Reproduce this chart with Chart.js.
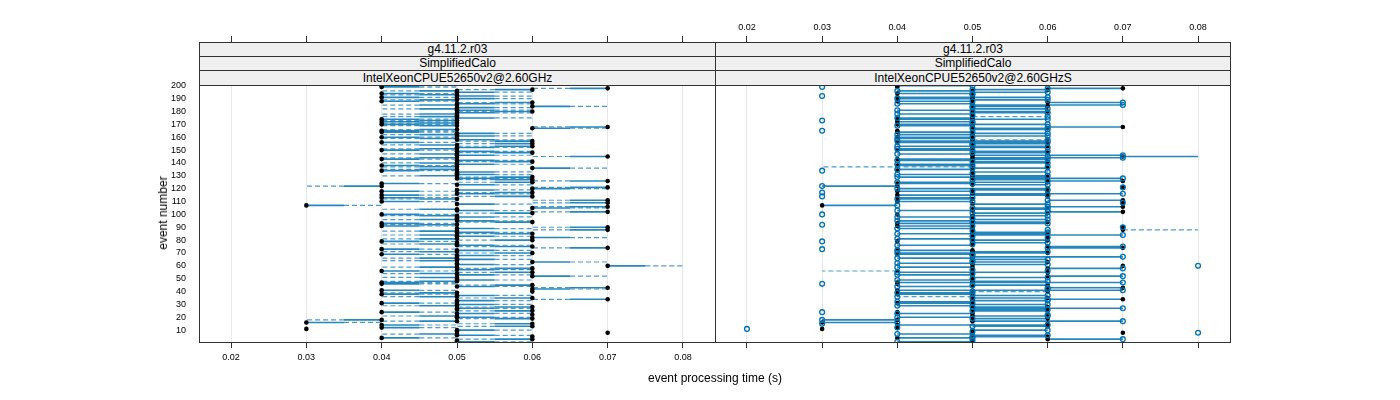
<!DOCTYPE html>
<html>
<head>
<meta charset="utf-8">
<script src="https://cdn.jsdelivr.net/npm/chart.js@4.4.1/dist/chart.umd.min.js"></script>
<style>
body { margin: 0; background: #fff; font-family: "Liberation Sans", Arial, sans-serif; }
#wrap { position: relative; width: 1400px; height: 400px; overflow: hidden; }
canvas { position: absolute; left: 0; top: 0; }
.strip { position: absolute; box-sizing: border-box; border: 1px solid #333; background: #efefef;
         font-size: 12px; text-align: center; color: #000; white-space: nowrap; }
.lab { position: absolute; font-size: 12px; color: #000; white-space: nowrap; }
</style>
</head>
<body>
<div id="wrap">
  <canvas id="left" width="1400" height="400"></canvas>
  <canvas id="right" width="1400" height="400"></canvas>
  <div class="lab" id="xlab">event processing time (s)</div>
  <div class="lab" id="ylab">event number</div>
</div>
<script>
// strip labels, one list per panel
const stripsLeft = ["g4.11.2.r03", "SimplifiedCalo", "IntelXeonCPUE52650v2@2.60GHz"];
const stripsRight = ["g4.11.2.r03", "SimplifiedCalo", "IntelXeonCPUE52650v2@2.60GHzS"];

// event processing time (s) per event, events 1..200 (black dots)
const timeRef = [
  0.05,0.05,0.06,0.04,0.06,0.05,0.05,0.07,0.05,0.05,
  0.03,0.04,0.06,0.04,0.06,0.03,0.05,0.04,0.06,0.05,
  0.05,0.06,0.05,0.04,0.06,0.05,0.05,0.06,0.05,0.05,
  0.04,0.05,0.05,0.07,0.06,0.05,0.05,0.04,0.05,0.06,
  0.04,0.06,0.07,0.05,0.06,0.04,0.04,0.05,0.05,0.05,
  0.05,0.06,0.05,0.05,0.06,0.04,0.05,0.06,0.05,0.07,
  0.05,0.05,0.06,0.05,0.05,0.05,0.05,0.05,0.04,0.06,
  0.05,0.05,0.04,0.07,0.06,0.05,0.05,0.05,0.04,0.06,
  0.05,0.06,0.05,0.05,0.06,0.05,0.05,0.07,0.05,0.07,
  0.04,0.05,0.04,0.06,0.05,0.05,0.05,0.05,0.05,0.04,
  0.06,0.07,0.05,0.05,0.06,0.07,0.03,0.05,0.07,0.04,
  0.07,0.05,0.04,0.06,0.04,0.05,0.06,0.04,0.05,0.06,
  0.07,0.04,0.05,0.04,0.06,0.07,0.06,0.05,0.06,0.05,
  0.05,0.05,0.05,0.04,0.05,0.06,0.05,0.04,0.05,0.05,
  0.06,0.05,0.04,0.05,0.07,0.05,0.05,0.06,0.05,0.04,
  0.05,0.05,0.06,0.05,0.06,0.04,0.06,0.05,0.05,0.04,
  0.05,0.05,0.05,0.04,0.04,0.05,0.06,0.07,0.05,0.04,
  0.05,0.04,0.05,0.04,0.05,0.05,0.05,0.05,0.05,0.06,
  0.05,0.05,0.05,0.06,0.05,0.05,0.06,0.04,0.05,0.05,
  0.04,0.05,0.05,0.04,0.05,0.05,0.06,0.07,0.04,0.04
];
// the ...GHzS run (open circles, right panel)
const timeS = [
  0.04,0.05,0.07,0.05,0.05,0.06,0.04,0.08,0.05,0.06,
  0.02,0.04,0.05,0.06,0.03,0.04,0.07,0.03,0.05,0.04,
  0.06,0.06,0.04,0.03,0.05,0.06,0.07,0.05,0.04,0.06,
  0.05,0.04,0.06,0.06,0.05,0.04,0.06,0.05,0.04,0.05,
  0.07,0.06,0.06,0.04,0.05,0.03,0.07,0.06,0.04,0.05,
  0.06,0.07,0.04,0.05,0.04,0.06,0.05,0.07,0.04,0.08,
  0.06,0.04,0.05,0.05,0.06,0.04,0.07,0.05,0.05,0.04,
  0.06,0.04,0.03,0.06,0.07,0.04,0.05,0.06,0.03,0.05,
  0.04,0.06,0.05,0.07,0.04,0.06,0.05,0.06,0.04,0.07,
  0.05,0.03,0.06,0.05,0.04,0.06,0.05,0.04,0.06,0.03,
  0.05,0.06,0.04,0.06,0.05,0.06,0.04,0.06,0.07,0.05,
  0.06,0.04,0.05,0.03,0.06,0.07,0.03,0.05,0.06,0.04,
  0.07,0.03,0.06,0.05,0.04,0.06,0.05,0.07,0.04,0.06,
  0.04,0.05,0.06,0.03,0.04,0.05,0.06,0.05,0.04,0.06,
  0.05,0.04,0.06,0.07,0.06,0.07,0.04,0.05,0.06,0.05,
  0.04,0.06,0.04,0.05,0.05,0.06,0.04,0.06,0.04,0.05,
  0.06,0.04,0.06,0.05,0.03,0.06,0.05,0.06,0.04,0.06,
  0.05,0.05,0.03,0.06,0.04,0.06,0.05,0.04,0.06,0.05,
  0.04,0.06,0.05,0.05,0.07,0.04,0.07,0.05,0.06,0.04,
  0.06,0.03,0.05,0.05,0.06,0.04,0.05,0.06,0.03,0.05
];
// time each black dot is joined to, left panel
const linkLeft = [
  0.06,0.05,0.05,0.05,0.06,0.06,0.04,0.07,0.05,0.06,
  0.03,0.05,0.05,0.05,0.05,0.04,0.04,0.03,0.05,0.06,
  0.04,0.06,0.06,0.05,0.05,0.05,0.06,0.05,0.04,0.06,
  0.05,0.05,0.06,0.06,0.05,0.04,0.06,0.05,0.04,0.06,
  0.05,0.07,0.06,0.06,0.05,0.05,0.05,0.04,0.06,0.05,
  0.04,0.07,0.06,0.04,0.05,0.05,0.06,0.05,0.04,0.08,
  0.06,0.05,0.07,0.04,0.06,0.04,0.05,0.06,0.05,0.05,
  0.04,0.06,0.05,0.06,0.05,0.06,0.04,0.05,0.05,0.05,
  0.04,0.07,0.06,0.04,0.05,0.06,0.04,0.06,0.06,0.06,
  0.05,0.04,0.05,0.05,0.06,0.04,0.05,0.06,0.04,0.05,
  0.05,0.06,0.06,0.04,0.07,0.06,0.04,0.06,0.06,0.05,
  0.06,0.04,0.05,0.05,0.05,0.06,0.05,0.05,0.06,0.07,
  0.06,0.03,0.06,0.05,0.05,0.06,0.05,0.06,0.05,0.04,
  0.06,0.05,0.06,0.05,0.04,0.07,0.04,0.05,0.06,0.04,
  0.05,0.06,0.05,0.04,0.06,0.06,0.04,0.05,0.06,0.05,
  0.04,0.06,0.05,0.04,0.05,0.05,0.05,0.06,0.04,0.05,
  0.06,0.04,0.06,0.05,0.05,0.04,0.07,0.06,0.04,0.05,
  0.04,0.05,0.04,0.05,0.06,0.04,0.05,0.04,0.06,0.05,
  0.06,0.04,0.06,0.07,0.04,0.06,0.05,0.05,0.04,0.06,
  0.05,0.06,0.04,0.05,0.06,0.04,0.05,0.06,0.05,0.05
];
// time each black dot is joined to, right panel
const linkRight = [
  0.04,0.05,0.07,0.05,0.05,0.06,0.04,0.07,0.05,0.06,
  0.03,0.04,0.05,0.06,0.06,0.04,0.07,0.03,0.05,0.04,
  0.06,0.06,0.04,0.04,0.05,0.06,0.07,0.05,0.04,0.06,
  0.05,0.04,0.06,0.06,0.05,0.04,0.06,0.05,0.04,0.05,
  0.07,0.06,0.06,0.04,0.05,0.04,0.07,0.06,0.04,0.05,
  0.06,0.07,0.04,0.05,0.04,0.03,0.05,0.07,0.04,0.07,
  0.06,0.04,0.05,0.05,0.06,0.04,0.07,0.05,0.05,0.04,
  0.06,0.04,0.04,0.06,0.07,0.04,0.05,0.06,0.04,0.05,
  0.04,0.06,0.05,0.07,0.04,0.06,0.05,0.08,0.04,0.07,
  0.05,0.05,0.06,0.05,0.04,0.06,0.05,0.04,0.06,0.04,
  0.05,0.06,0.04,0.06,0.05,0.06,0.04,0.06,0.07,0.05,
  0.06,0.04,0.05,0.06,0.06,0.07,0.06,0.05,0.06,0.04,
  0.07,0.03,0.06,0.05,0.04,0.06,0.05,0.07,0.04,0.06,
  0.04,0.05,0.06,0.04,0.04,0.05,0.03,0.05,0.04,0.06,
  0.05,0.04,0.06,0.07,0.08,0.07,0.04,0.05,0.06,0.05,
  0.04,0.06,0.04,0.05,0.05,0.06,0.04,0.06,0.04,0.05,
  0.06,0.04,0.06,0.05,0.04,0.06,0.05,0.06,0.04,0.06,
  0.05,0.05,0.05,0.06,0.04,0.06,0.05,0.04,0.06,0.05,
  0.04,0.06,0.05,0.05,0.07,0.04,0.07,0.05,0.06,0.04,
  0.06,0.05,0.05,0.05,0.06,0.04,0.05,0.06,0.04,0.05
];
// events whose right-panel link is drawn dashed
const dashedRight = [36, 40, 56, 88, 137, 158, 176];

const xMin = 0.01575, xMax = 0.08425;
const yMin = 0.8, yMax = 200.6;
const blue = "rgb(0,114,178)";
const fontFam = '"Liberation Sans", Arial, sans-serif';
Chart.defaults.font.family = fontFam;

const events = timeRef.map((_, i) => i + 1);
const refPts = events.map((ev, i) => ({x: timeRef[i], y: ev}));
const sPts = events.map((ev, i) => ({x: timeS[i], y: ev}));

// horizontal segments, a null point breaks the line between events
let solidL = [], dashL = [], solidR = [], dashR = [];
events.forEach((ev, i) => {
  let a = timeRef[i], b = linkLeft[i], c = linkRight[i];
  if (a !== b) {
    let mid = (a + b) / 2;
    solidL.push({x: a, y: ev}, {x: mid, y: ev}, {x: mid, y: null});
    dashL.push({x: mid, y: ev}, {x: b, y: ev}, {x: b, y: null});
  }
  if (a !== c) {
    let target = dashedRight.includes(ev) ? dashR : solidR;
    target.push({x: a, y: ev}, {x: c, y: ev}, {x: c, y: null});
  }
});

function panelOptions(isLeft) {
  let tickFont = {size: 9, family: fontFam};
  return {
    responsive: false,
    animation: false,
    events: [],
    layout: {padding: isLeft ? {left: 0, right: 685, top: 0, bottom: 0} : {left: 715, right: 0, top: 0, bottom: 0}},
    plugins: {legend: {display: false}, tooltip: {enabled: false}},
    scales: {
      x: {
        type: "linear", position: "bottom", min: xMin, max: xMax,
        afterFit: s => { s.height = 58; },
        grid: {color: "#e8e8e8", tickColor: "#333", tickLength: 6},
        border: {color: "#333"},
        ticks: {display: isLeft, stepSize: 0.01, includeBounds: false, padding: 4, color: "#000",
                font: tickFont, maxRotation: 0, autoSkip: false, callback: v => v.toFixed(2)}
      },
      xTop: {
        type: "linear", position: "top", min: xMin, max: xMax,
        afterFit: s => { s.height = 85; },
        grid: {drawOnChartArea: false, tickColor: "#333", tickLength: 49},
        border: {color: "#333"},
        ticks: {display: !isLeft, stepSize: 0.01, includeBounds: false, padding: 3, color: "#000",
                font: tickFont, maxRotation: 0, autoSkip: false, callback: v => v.toFixed(2)}
      },
      y: {
        type: "linear", position: isLeft ? "left" : "right", min: yMin, max: yMax,
        afterFit: s => { s.width = isLeft ? 199 : 170; },
        grid: {display: false},
        border: {color: "#333"},
        ticks: {display: isLeft, stepSize: 10, includeBounds: false, autoSkip: false,
                padding: 5, color: "#000", font: tickFont}
      },
      yEdge: {
        type: "linear", position: isLeft ? "right" : "left",
        afterFit: s => { s.width = 0; },
        grid: {display: false},
        border: {color: "#333"},
        ticks: {display: false}
      }
    }
  };
}

const dotStyle = {pointRadius: 2.3, pointBackgroundColor: "#000", pointBorderWidth: 0, showLine: false};

new Chart(document.getElementById("left"), {
  type: "scatter",
  data: {
    datasets: [
      Object.assign({data: refPts}, dotStyle),
      {data: solidL, showLine: true, pointRadius: 0, borderColor: "rgba(0,114,178,0.85)", borderWidth: 1.6},
      {data: dashL, showLine: true, pointRadius: 0, borderColor: "rgba(0,114,178,0.7)", borderWidth: 1.2, borderDash: [5, 3]}
    ]
  },
  options: panelOptions(true)
});

new Chart(document.getElementById("right"), {
  type: "scatter",
  data: {
    datasets: [
      {data: sPts, showLine: false, pointRadius: 2.4, pointBackgroundColor: "rgba(0,0,0,0)",
       pointBorderColor: blue, pointBorderWidth: 1.3},
      Object.assign({data: refPts}, dotStyle),
      {data: solidR, showLine: true, pointRadius: 0, borderColor: "rgba(0,114,178,0.85)", borderWidth: 1.6},
      {data: dashR, showLine: true, pointRadius: 0, borderColor: "rgba(0,114,178,0.7)", borderWidth: 1.2, borderDash: [5, 3]}
    ]
  },
  options: panelOptions(false)
});

// strips above each panel
const wrap = document.getElementById("wrap");
function addStrips(labels, left, width) {
  const tops = [42, 56, 70], heights = [15, 15, 16];
  labels.forEach((txt, k) => {
    let d = document.createElement("div");
    d.className = "strip";
    d.textContent = txt;
    d.style.left = left + "px";
    d.style.top = tops[k] + "px";
    d.style.width = width + "px";
    d.style.height = heights[k] + "px";
    d.style.lineHeight = (heights[k] - 2) + "px";
    wrap.appendChild(d);
  });
}
addStrips(stripsLeft, 199, 517);
addStrips(stripsRight, 715, 516);

const xlab = document.getElementById("xlab");
xlab.style.left = "715px"; xlab.style.top = "371px"; xlab.style.transform = "translateX(-50%)";
const ylab = document.getElementById("ylab");
ylab.style.left = "163px"; ylab.style.top = "213px";
ylab.style.transform = "translate(-50%,-50%) rotate(-90deg)";
</script>
</body>
</html>
